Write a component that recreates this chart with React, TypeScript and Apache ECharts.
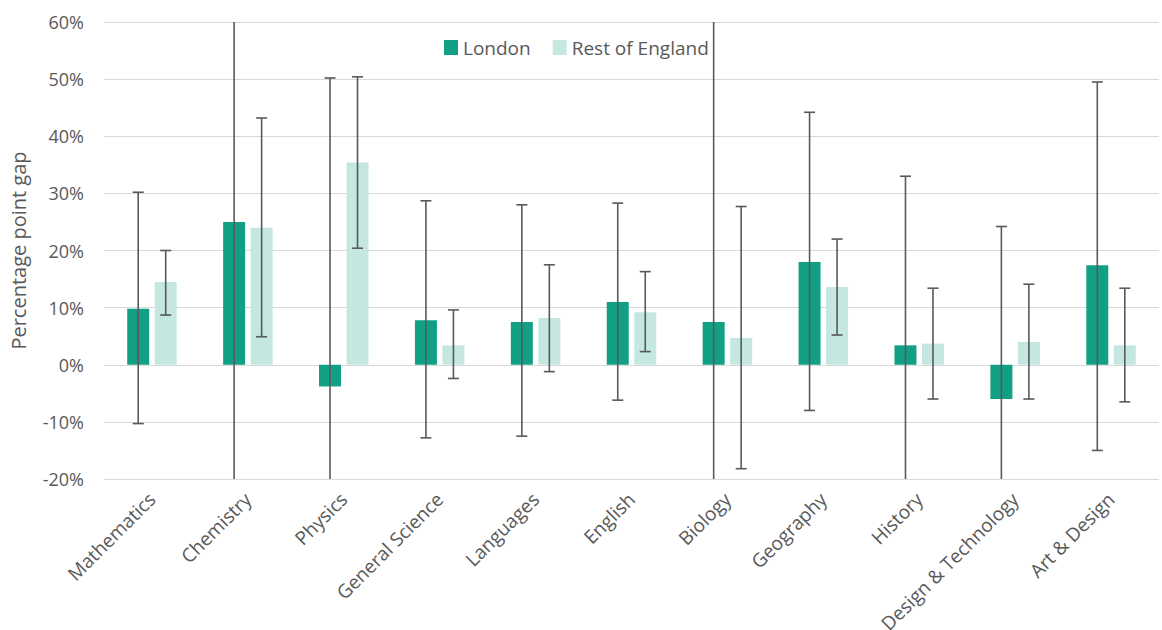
import React, { useEffect, useRef } from "react";
import * as echarts from "echarts";

const categories = [
  "Mathematics", "Chemistry", "Physics", "General Science", "Languages", "English",
  "Biology", "Geography", "History", "Design & Technology", "Art & Design",
];
const londonValues = [9.8, 25, -3.8, 7.8, 7.5, 11, 7.5, 18, 3.4, -6, 17.4];
const londonHigh = [30.2, 73, 50.2, 28.7, 28, 28.3, 67.5, 44.2, 33, 24.2, 49.5];
const londonLow = [-10.3, -23, -57.8, -12.8, -12.5, -6.2, -52.5, -8, -26.2, -36.2, -15];
const restValues = [14.5, 24, 35.4, 3.4, 8.2, 9.2, 4.7, 13.6, 3.7, 4, 3.4];
const restHigh = [20, 43.2, 50.4, 9.6, 17.5, 16.3, 27.7, 22, 13.4, 14.1, 13.4];
const restLow = [8.7, 4.9, 20.4, -2.4, -1.2, 2.3, -18.2, 5.2, -6, -6, -6.5];

const LONDON = "#12a085";
const REST = "#c4e7e0";
const FONT = "'Open Sans', sans-serif";

function errorSeries(name: string, high: number[], low: number[], offset: number) {
  return {
    type: "custom",
    name: name + " error",
    silent: true,
    z: 5,
    data: categories.map((_, i) => [i, low[i], high[i]]),
    renderItem: (params: any, api: any) => {
      const i = api.value(0);
      const pLow = api.coord([i, api.value(1)]);
      const pHigh = api.coord([i, api.value(2)]);
      const cs = params.coordSys;
      const top = cs.y;
      const bottom = cs.y + cs.height;
      const x = pLow[0] + offset;
      const yH = Math.max(pHigh[1], top);
      const yL = Math.min(pLow[1], bottom);
      const style = { stroke: "#595959", lineWidth: 1.6 };
      const children: any[] = [
        { type: "line", shape: { x1: x, y1: yH, x2: x, y2: yL }, style },
      ];
      if (pHigh[1] >= top) {
        children.push({ type: "line", shape: { x1: x - 5.5, y1: yH, x2: x + 5.5, y2: yH }, style });
      }
      if (pLow[1] <= bottom) {
        children.push({ type: "line", shape: { x1: x - 5.5, y1: yL, x2: x + 5.5, y2: yL }, style });
      }
      return { type: "group", children };
    },
  };
}

export default function App() {
  const ref = useRef<HTMLDivElement>(null);
  useEffect(() => {
    if (!ref.current) return;
    const chart = echarts.init(ref.current, undefined, { renderer: "svg" });
    chart.setOption({
      animation: false,
      textStyle: { fontFamily: FONT },
      legend: {
        top: 38,
        left: 444,
        padding: 0,
        itemWidth: 14,
        itemHeight: 15,
        itemGap: 22,
        icon: "rect",
        textStyle: { fontFamily: FONT, fontSize: 19, color: "#595959" },
        data: ["London", "Rest of England"],
      },
      grid: { left: 104, right: 3, top: 22, bottom: 151, outerBoundsMode: "none", containLabel: false },
      xAxis: {
        type: "category",
        data: categories,
        axisLine: { show: false },
        axisTick: { show: false },
        axisLabel: {
          interval: 0,
          rotate: 45,
          margin: 17,
          fontFamily: FONT,
          fontSize: 19,
          color: "#595959",
        },
      },
      yAxis: {
        type: "value",
        min: -20,
        max: 60,
        interval: 10,
        name: "Percentage point gap",
        nameLocation: "middle",
        nameGap: 76,
        nameTextStyle: { fontFamily: FONT, fontSize: 20, color: "#595959" },
        axisLine: { show: false },
        axisTick: { show: false },
        axisLabel: {
          formatter: "{value}%",
          fontFamily: FONT,
          fontSize: 18,
          color: "#595959",
          margin: 20,
        },
        splitLine: { lineStyle: { color: "#d9d9d9", width: 1.2 } },
      },
      series: [
        {
          type: "bar",
          name: "London",
          data: londonValues,
          barWidth: 22,
          barGap: "25%",
          itemStyle: { color: LONDON },
        },
        {
          type: "bar",
          name: "Rest of England",
          data: restValues,
          barWidth: 22,
          itemStyle: { color: REST },
        },
        errorSeries("London", londonHigh, londonLow, -13.75),
        errorSeries("Rest of England", restHigh, restLow, 13.75),
      ],
    });
    return () => chart.dispose();
  }, []);
  return <div ref={ref} style={{ width: 1162, height: 630, position: "absolute", left: 0, top: 0 }} />;
}
